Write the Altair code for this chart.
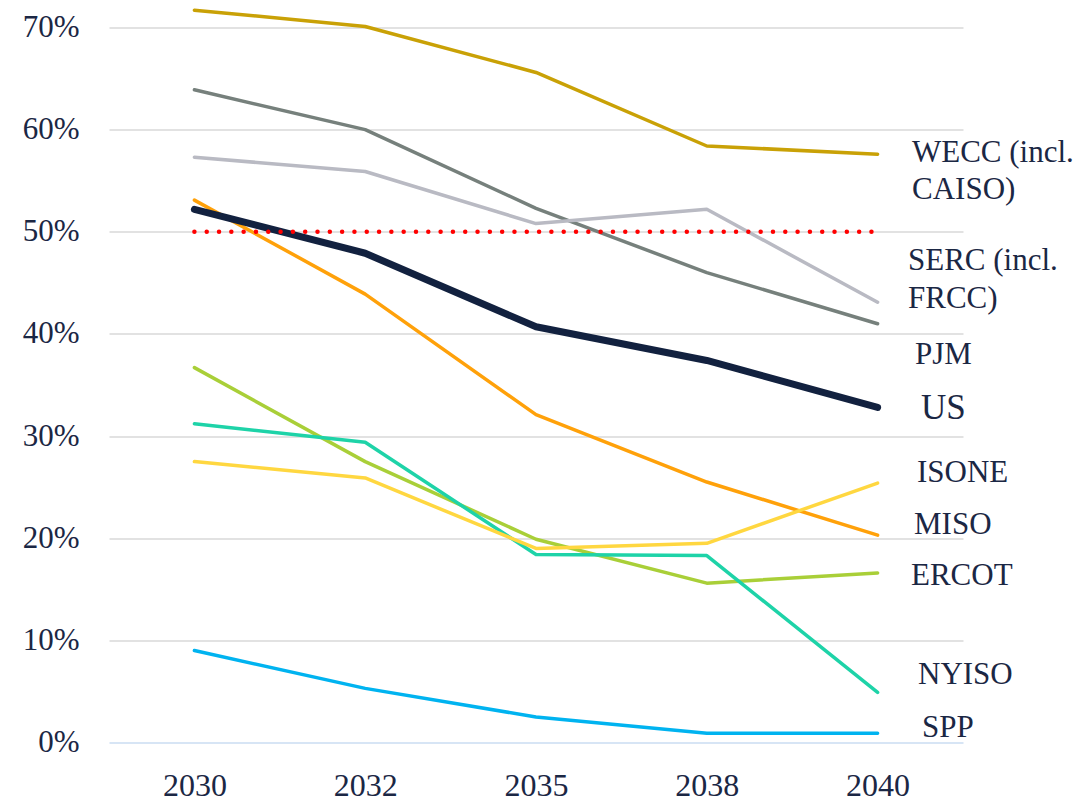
import altair as alt
import pandas as pd

years = ["2030", "2032", "2035", "2038", "2040"]

series_names = ["WECC", "PJM", "SERC", "MISO", "ERCOT", "NYISO", "ISONE", "SPP"]
wecc = [0.717, 0.701, 0.656, 0.584, 0.576]
pjm = [0.639, 0.600, 0.523, 0.460, 0.410]
serc = [0.573, 0.559, 0.508, 0.522, 0.431]
miso = [0.531, 0.439, 0.321, 0.255, 0.203]
ercot = [0.367, 0.275, 0.199, 0.156, 0.166]
nyiso = [0.312, 0.294, 0.184, 0.183, 0.049]
isone = [0.275, 0.259, 0.190, 0.195, 0.254]
spp = [0.090, 0.053, 0.025, 0.009, 0.009]
us = [0.522, 0.479, 0.407, 0.374, 0.328]

series_colors = ["#C9A106", "#76807C", "#B9BAC3", "#FFA10A", "#A9CF38",
                 "#1ED3A8", "#FFD740", "#00B3F0"]
us_color = "#12213F"
text_color = "#1B2744"

threshold = 0.5

label_texts = ["WECC (incl.", "CAISO)", "SERC (incl.", "FRCC)", "PJM",
               "ISONE", "MISO", "ERCOT", "NYISO", "SPP"]
label_pos = [0.577, 0.541, 0.471, 0.434, 0.379, 0.264, 0.213, 0.163, 0.066, 0.014]
label_x = [803, 803, 799, 799, 806, 808, 805, 802, 809, 813]

rows = []
for name, vals in zip(series_names, [wecc, pjm, serc, miso, ercot, nyiso, isone, spp]):
    for y, v in zip(years, vals):
        rows.append({"series": name, "year": y, "value": v})
df = pd.DataFrame(rows)
df_us = pd.DataFrame({"series": "US", "year": years, "value": us})
df_th = pd.DataFrame({"year": [years[0], years[-1]], "value": [threshold, threshold]})
df_lab = pd.DataFrame({"text": label_texts, "pos": label_pos, "px": label_x})
df_us_lab = pd.DataFrame({"text": ["US"], "pos": [0.327], "px": [812]})

FONT = "Liberation Serif"

x_enc = alt.X("year:O", sort=years, title=None,
              axis=alt.Axis(labelAngle=0, domain=False, ticks=False, grid=False,
                            labelPadding=28, labelFontSize=32, labelFont=FONT,
                            labelColor=text_color))
y_scale = alt.Scale(domain=[0, 0.7], nice=False, zero=True)
y_enc = alt.Y("value:Q", scale=y_scale, title=None,
              axis=alt.Axis(format=".0%", values=[0, 0.1, 0.2, 0.3, 0.4, 0.5, 0.6, 0.7],
                            domain=False, ticks=False, grid=True,
                            gridColor={"condition": {"test": "datum.value === 0", "value": "#CADDF2"},
                                       "value": "#D9D9D9"},
                            gridWidth=1.5,
                            labelPadding=30, labelFontSize=31, labelFont=FONT,
                            labelColor=text_color))

lines = alt.Chart(df).mark_line(strokeWidth=3.5, strokeCap="round", strokeJoin="round").encode(
    x=x_enc, y=y_enc,
    color=alt.Color("series:N", scale=alt.Scale(domain=series_names, range=series_colors), legend=None),
    detail="series:N",
)

us_line = alt.Chart(df_us).mark_line(strokeWidth=7, strokeCap="round", strokeJoin="round", color=us_color).encode(
    x=alt.X("year:O", sort=years), y=alt.Y("value:Q", scale=y_scale)
)

th_line = alt.Chart(df_th).mark_line(strokeWidth=4.5, strokeCap="round", strokeDash=[0.01, 12.3],
                                     color="#FF0000").encode(
    x=alt.X("year:O", sort=years), y=alt.Y("value:Q", scale=y_scale)
)

labels = alt.Chart(df_lab).mark_text(align="left", baseline="middle", font=FONT, fontSize=31,
                                     color=text_color).encode(
    x=alt.X("px:Q", scale=None, axis=None), y=alt.Y("pos:Q", scale=y_scale), text="text:N"
)

us_label = alt.Chart(df_us_lab).mark_text(align="left", baseline="middle", font=FONT, fontSize=35,
                                          color=text_color).encode(
    x=alt.X("px:Q", scale=None, axis=None), y=alt.Y("pos:Q", scale=y_scale), text="text:N"
)

chart = alt.layer(lines, us_line, th_line, labels, us_label).properties(
    width=854, height=715,
    background="white",
    padding={"left": 101, "top": 19.5, "right": 116, "bottom": 66},
    autosize=alt.AutoSizeParams(type="none"),
).configure_view(stroke=None)

chart.save("out.html", embed_options={"renderer": "svg", "actions": False})
